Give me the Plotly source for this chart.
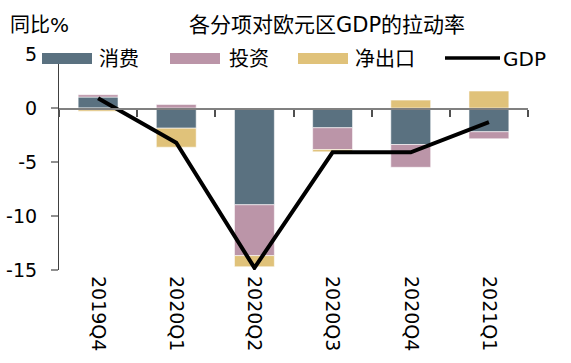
import plotly.graph_objects as go

# ---- data ----
quarters = ["2019Q4", "2020Q1", "2020Q2", "2020Q3", "2020Q4", "2021Q1"]
consumption = [1.01, -1.87, -8.96, -1.83, -3.38, -2.20]
investment = [0.22, 0.33, -4.71, -2.02, -2.11, -0.65]
net_exports = [-0.29, -1.76, -1.03, -0.21, 0.73, 1.57]
gdp = [0.9, -3.22, -14.8, -4.1, -4.1, -1.31]

series_names = ["消费", "投资", "净出口", "GDP"]
colors = ["#5a7180", "#bb95a8", "#e0c27a", "#000000"]
y_ticks = [5, 0, -5, -10, -15]
title_text = "各分项对欧元区GDP的拉动率"
unit_text = "同比%"

W, H = 571, 363
L, R, T, B = 59, 43, 54, 93
PW, PH = W - L - R, H - T - B


def px(x):
    return (x - L) / PW


def py(y):
    return (H - B - y) / PH


FONT = "DejaVu Sans, Noto Sans CJK SC"
fig = go.Figure()
edge = dict(color="rgba(255,255,255,0.55)", width=1)
for vals, name, col in zip([consumption, investment, net_exports], series_names[:3], colors[:3]):
    fig.add_trace(go.Bar(x=quarters, y=vals, name=name, marker=dict(color=col, line=edge),
                         showlegend=False))
fig.add_trace(go.Scatter(x=quarters, y=gdp, name="GDP", mode="lines", xaxis="x2",
                         line=dict(color="black", width=4), showlegend=False))

shapes = []
annotations = []
# manual legend (pixel positions)
legend_items = [
    ("bar", 42, 92, 97),
    ("bar", 170, 220, 227),
    ("bar", 298, 348, 353),
    ("line", 445, 500, 501),
]
for (kind, x0, x1, tx), name, col in zip(legend_items, series_names, colors):
    if kind == "bar":
        shapes.append(dict(type="rect", xref="paper", yref="paper", layer="above",
                           x0=px(x0), x1=px(x1), y0=py(64), y1=py(53),
                           fillcolor=col, line=dict(width=0)))
    else:
        shapes.append(dict(type="line", xref="paper", yref="paper", layer="above",
                           x0=px(x0), x1=px(x1), y0=py(58), y1=py(58),
                           line=dict(color=col, width=3.5)))
    annotations.append(dict(text=name, xref="paper", yref="paper", x=px(tx), y=py(59),
                            xanchor="left", yanchor="middle", showarrow=False,
                            font=dict(size=20, color="black", family=FONT)))

annotations.append(dict(text=unit_text, xref="paper", yref="paper", x=px(8), y=py(25),
                        xanchor="left", yanchor="middle", showarrow=False,
                        font=dict(size=20, color="black", family=FONT)))
annotations.append(dict(text=title_text, xref="paper", yref="paper", x=px(327), y=py(25),
                        xanchor="center", yanchor="middle", showarrow=False,
                        font=dict(size=21, color="black", family=FONT)))

fig.update_layout(
    width=W, height=H,
    margin=dict(l=L, r=R, t=T, b=B, pad=0, autoexpand=False),
    paper_bgcolor="white", plot_bgcolor="white",
    barmode="relative", bargap=0.49,
    font=dict(family=FONT, size=19, color="black"),
    shapes=shapes, annotations=annotations,
    xaxis=dict(type="category", categoryorder="array", categoryarray=quarters,
               range=[-0.5, len(quarters) - 0.5], showline=False, ticks="",
               showgrid=False, zeroline=False, tickangle=90, automargin=False,
               ticklabelstandoff=5,
               tickfont=dict(size=19, family=FONT, color="black")),
    xaxis2=dict(type="category", categoryorder="array", categoryarray=quarters,
                range=[-0.5, len(quarters) - 0.5], overlaying="x", anchor="free",
                position=py(108.6), side="bottom", showline=True, linecolor="#808080",
                linewidth=2, ticks="outside", tickson="boundaries", ticklen=7,
                tickcolor="#505050", tickwidth=1.5, showticklabels=False,
                showgrid=False, zeroline=False, automargin=False),
    yaxis=dict(range=[-15, 5], tickvals=y_ticks, ticktext=[str(v) for v in y_ticks],
               showline=True, linecolor="#404040", linewidth=1.2, ticks="outside",
               ticklen=7, tickcolor="#909090", tickwidth=2, showgrid=False,
               zeroline=False, automargin=False, ticklabelstandoff=10,
               tickfont=dict(size=19, family=FONT, color="black")),
)

fig.write_html("out.html", config={"displayModeBar": False},
               post_script="document.body.style.margin='0';document.body.style.overflow='hidden';")
